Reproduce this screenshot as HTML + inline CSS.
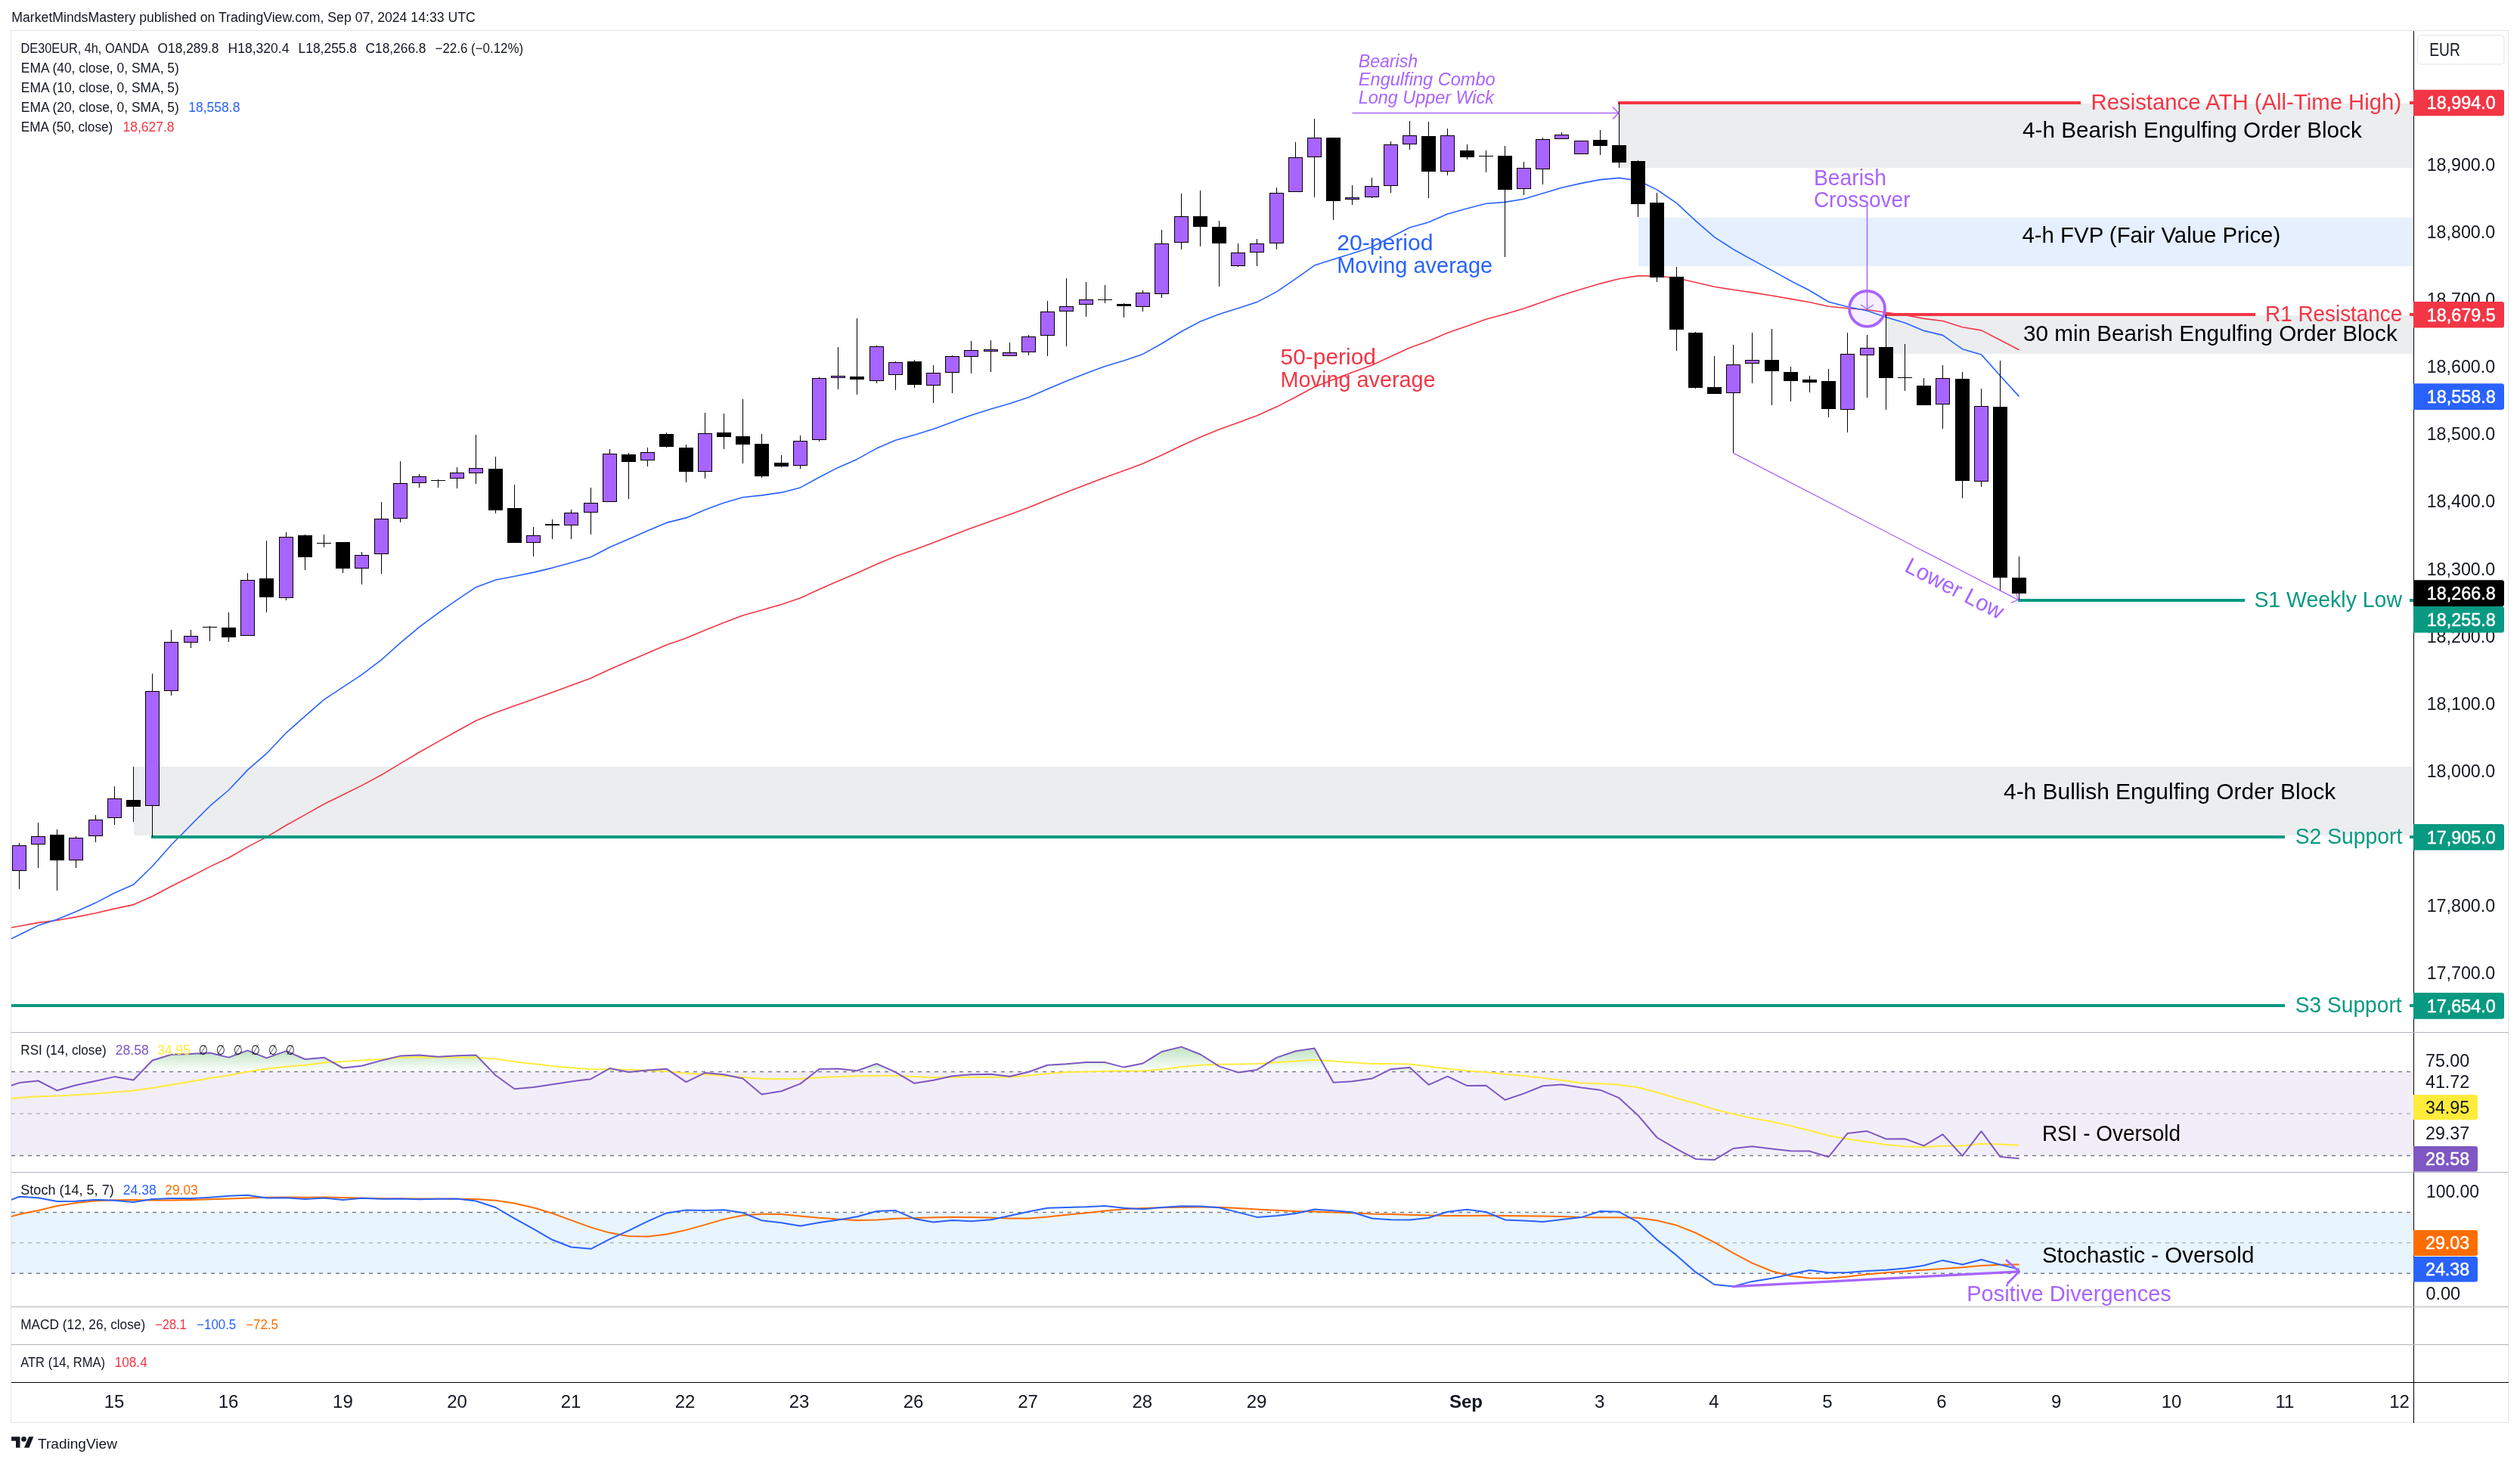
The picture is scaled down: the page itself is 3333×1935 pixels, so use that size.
<!DOCTYPE html>
<html><head><meta charset="utf-8"><title>DE30EUR chart</title>
<style>html,body{margin:0;padding:0;background:#fff;width:3333px;height:1935px;overflow:hidden}svg{display:block;will-change:transform}text{font-family:"Liberation Sans",sans-serif}</style>
</head><body>
<svg width="3333" height="1935" viewBox="0 0 3333 1935" font-family="Liberation Sans, sans-serif"><rect width="3333" height="1935" fill="#ffffff"/>
<text x="15.3" y="29.3" font-size="18" fill="#131722" textLength="613.5" lengthAdjust="spacingAndGlyphs">MarketMindsMastery published on TradingView.com, Sep 07, 2024 14:33 UTC</text>
<rect x="14.5" y="40.5" width="3303" height="1841" fill="none" stroke="#e0e3eb" stroke-width="1"/>
<defs><clipPath id="cm"><rect x="15" y="41" width="3177" height="1324"/></clipPath><clipPath id="cr"><rect x="15" y="1366" width="3177" height="184"/></clipPath><clipPath id="cs"><rect x="15" y="1551" width="3177" height="177"/></clipPath><linearGradient id="gg" x1="0" y1="0" x2="0" y2="1"><stop offset="0" stop-color="#4caf50" stop-opacity="0.35"/><stop offset="1" stop-color="#4caf50" stop-opacity="0.0"/></linearGradient></defs>
<g clip-path="url(#cm)">
<rect x="2142" y="137" width="1050" height="85" fill="#ebedef"/>
<rect x="2167" y="288" width="1025" height="64" fill="#e5effd"/>
<rect x="2495" y="417" width="697" height="51" fill="#ebedef"/>
<rect x="177" y="1014" width="3015" height="91" fill="#ebedef"/>
<polyline points="-0.4,1229.4 25.5,1225.0 50.5,1220.4 75.5,1217.2 100.5,1212.9 126.5,1207.8 151.5,1201.9 176.5,1196.6 201.5,1185.5 226.5,1172.3 252.5,1159.3 277.5,1146.4 302.5,1134.5 327.5,1120.1 352.5,1107.1 378.5,1091.5 403.5,1077.6 428.5,1063.5 453.5,1051.3 478.5,1038.9 504.5,1025.0 529.5,1009.9 554.5,995.0 579.5,980.9 604.5,967.0 629.5,953.3 655.5,942.4 680.5,933.6 705.5,924.8 730.5,915.7 755.5,906.4 781.5,896.9 806.5,885.3 831.5,874.5 856.5,863.7 881.5,853.0 907.5,844.0 932.5,833.4 957.5,823.4 982.5,814.1 1007.5,806.9 1033.5,799.4 1058.5,791.0 1083.5,779.6 1108.5,768.5 1133.5,758.1 1159.5,746.3 1184.5,735.8 1209.5,726.9 1234.5,717.7 1259.5,708.1 1284.5,698.5 1310.5,689.2 1335.5,680.4 1360.5,671.2 1385.5,661.0 1410.5,651.0 1436.5,641.0 1461.5,631.4 1486.5,622.5 1511.5,613.3 1536.5,601.9 1562.5,589.5 1587.5,578.2 1612.5,568.1 1637.5,559.0 1662.5,549.7 1688.5,538.1 1713.5,525.2 1738.5,511.7 1763.5,502.1 1788.5,492.6 1814.5,483.0 1839.5,471.5 1864.5,460.1 1889.5,450.9 1914.5,440.3 1940.5,431.2 1965.5,422.3 1990.5,415.6 2015.5,408.0 2040.5,399.3 2065.5,390.6 2091.5,382.6 2116.5,375.1 2141.5,368.8 2166.5,364.9 2191.5,365.0 2217.5,367.8 2242.5,373.5 2267.5,379.3 2292.5,383.3 2317.5,386.9 2343.5,391.0 2368.5,395.4 2393.5,399.7 2418.5,405.3 2443.5,407.7 2469.5,409.8 2494.5,413.3 2519.5,416.7 2544.5,421.4 2569.5,424.5 2595.5,432.8 2620.5,436.9 2645.5,449.7 2670.5,462.8" fill="none" stroke="#f23645" stroke-width="1.6" stroke-linejoin="round"/>
<polyline points="-0.4,1249.0 25.5,1236.5 50.5,1224.1 75.5,1215.9 100.5,1205.7 126.5,1194.1 151.5,1181.0 176.5,1170.1 201.5,1145.7 226.5,1117.5 252.5,1091.2 277.5,1066.2 302.5,1045.0 327.5,1018.4 352.5,996.7 378.5,969.3 403.5,947.2 428.5,925.4 453.5,908.9 478.5,892.3 504.5,872.6 529.5,850.4 554.5,829.4 579.5,810.9 604.5,793.3 629.5,776.7 655.5,767.0 680.5,762.3 705.5,757.1 730.5,751.1 755.5,744.2 781.5,736.7 806.5,723.7 831.5,712.9 856.5,702.0 881.5,691.4 907.5,684.9 932.5,674.3 957.5,665.1 982.5,657.7 1007.5,655.1 1033.5,651.4 1058.5,644.9 1083.5,631.2 1108.5,618.4 1133.5,607.4 1159.5,593.1 1184.5,582.3 1209.5,575.3 1234.5,567.4 1259.5,558.2 1284.5,549.2 1310.5,540.9 1335.5,533.8 1360.5,525.4 1385.5,514.5 1410.5,504.1 1436.5,493.8 1461.5,484.6 1486.5,477.0 1511.5,468.4 1536.5,454.5 1562.5,438.5 1587.5,425.3 1612.5,415.5 1637.5,407.8 1662.5,399.6 1688.5,385.9 1713.5,368.9 1738.5,351.1 1763.5,343.1 1788.5,335.2 1814.5,326.7 1839.5,313.8 1864.5,301.0 1889.5,294.0 1914.5,283.0 1940.5,275.8 1965.5,269.2 1990.5,267.4 2015.5,263.2 2040.5,255.7 2065.5,248.3 2091.5,242.4 2116.5,237.6 2141.5,235.4 2166.5,238.7 2191.5,250.9 2217.5,268.6 2242.5,291.8 2267.5,313.6 2292.5,329.7 2317.5,343.6 2343.5,357.6 2368.5,371.5 2393.5,384.3 2418.5,399.2 2443.5,405.8 2469.5,411.0 2494.5,419.4 2519.5,427.0 2544.5,437.4 2569.5,443.4 2595.5,461.7 2620.5,468.9 2645.5,497.0 2670.5,524.4" fill="none" stroke="#2962ff" stroke-width="1.6" stroke-linejoin="round"/>
<rect x="2140" y="134" width="612" height="4" fill="#f23645"/>
<rect x="3187" y="134" width="5" height="4" fill="#f23645"/>
<rect x="2492" y="414" width="491" height="4" fill="#f23645"/>
<rect x="3187" y="414" width="5" height="4" fill="#f23645"/>
<rect x="2669" y="792" width="300" height="4" fill="#089981"/>
<rect x="3187" y="792" width="5" height="4" fill="#089981"/>
<rect x="200" y="1105" width="2822" height="4" fill="#089981"/>
<rect x="3187" y="1105" width="5" height="4" fill="#089981"/>
<rect x="15" y="1328" width="3007" height="4" fill="#089981"/>
<rect x="3187" y="1328" width="5" height="4" fill="#089981"/>
<rect x="25" y="1115" width="1" height="61" fill="#000"/><rect x="16" y="1118" width="19" height="34" fill="#000"/><rect x="17" y="1119" width="17" height="32" fill="#a864ff"/><rect x="50" y="1088" width="1" height="60" fill="#000"/><rect x="41" y="1106" width="19" height="11" fill="#000"/><rect x="42" y="1107" width="17" height="9" fill="#a864ff"/><rect x="75" y="1097" width="1" height="81" fill="#000"/><rect x="66" y="1104" width="19" height="34" fill="#000"/><rect x="100" y="1106" width="1" height="42" fill="#000"/><rect x="91" y="1108" width="19" height="30" fill="#000"/><rect x="92" y="1109" width="17" height="28" fill="#a864ff"/><rect x="126" y="1078" width="1" height="36" fill="#000"/><rect x="117" y="1084" width="19" height="22" fill="#000"/><rect x="118" y="1085" width="17" height="20" fill="#a864ff"/><rect x="151" y="1040" width="1" height="51" fill="#000"/><rect x="142" y="1056" width="19" height="26" fill="#000"/><rect x="143" y="1057" width="17" height="24" fill="#a864ff"/><rect x="176" y="1014" width="1" height="73" fill="#000"/><rect x="167" y="1058" width="19" height="9" fill="#000"/><rect x="201" y="891" width="1" height="216" fill="#000"/><rect x="192" y="914" width="19" height="152" fill="#000"/><rect x="193" y="915" width="17" height="150" fill="#a864ff"/><rect x="226" y="833" width="1" height="87" fill="#000"/><rect x="217" y="849" width="19" height="65" fill="#000"/><rect x="218" y="850" width="17" height="63" fill="#a864ff"/><rect x="252" y="833" width="1" height="24" fill="#000"/><rect x="243" y="841" width="19" height="9" fill="#000"/><rect x="244" y="842" width="17" height="7" fill="#a864ff"/><rect x="277" y="828" width="1" height="20" fill="#000"/><rect x="268" y="829" width="19" height="1" fill="#000"/><rect x="302" y="810" width="1" height="39" fill="#000"/><rect x="293" y="830" width="19" height="13" fill="#000"/><rect x="327" y="758" width="1" height="83" fill="#000"/><rect x="318" y="767" width="19" height="74" fill="#000"/><rect x="319" y="768" width="17" height="72" fill="#a864ff"/><rect x="352" y="715" width="1" height="95" fill="#000"/><rect x="343" y="765" width="19" height="25" fill="#000"/><rect x="378" y="704" width="1" height="90" fill="#000"/><rect x="369" y="710" width="19" height="81" fill="#000"/><rect x="370" y="711" width="17" height="79" fill="#a864ff"/><rect x="403" y="707" width="1" height="47" fill="#000"/><rect x="394" y="708" width="19" height="29" fill="#000"/><rect x="428" y="707" width="1" height="17" fill="#000"/><rect x="419" y="718" width="19" height="1" fill="#000"/><rect x="453" y="717" width="1" height="41" fill="#000"/><rect x="444" y="717" width="19" height="35" fill="#000"/><rect x="478" y="730" width="1" height="43" fill="#000"/><rect x="469" y="734" width="19" height="18" fill="#000"/><rect x="470" y="735" width="17" height="16" fill="#a864ff"/><rect x="504" y="664" width="1" height="95" fill="#000"/><rect x="495" y="686" width="19" height="47" fill="#000"/><rect x="496" y="687" width="17" height="45" fill="#a864ff"/><rect x="529" y="610" width="1" height="81" fill="#000"/><rect x="520" y="639" width="19" height="47" fill="#000"/><rect x="521" y="640" width="17" height="45" fill="#a864ff"/><rect x="554" y="627" width="1" height="18" fill="#000"/><rect x="545" y="630" width="19" height="9" fill="#000"/><rect x="546" y="631" width="17" height="7" fill="#a864ff"/><rect x="579" y="634" width="1" height="11" fill="#000"/><rect x="570" y="635" width="19" height="1" fill="#000"/><rect x="604" y="618" width="1" height="28" fill="#000"/><rect x="595" y="625" width="19" height="8" fill="#000"/><rect x="596" y="626" width="17" height="6" fill="#a864ff"/><rect x="629" y="575" width="1" height="65" fill="#000"/><rect x="620" y="619" width="19" height="7" fill="#000"/><rect x="621" y="620" width="17" height="5" fill="#a864ff"/><rect x="655" y="604" width="1" height="75" fill="#000"/><rect x="646" y="620" width="19" height="55" fill="#000"/><rect x="680" y="641" width="1" height="77" fill="#000"/><rect x="671" y="672" width="19" height="46" fill="#000"/><rect x="705" y="697" width="1" height="39" fill="#000"/><rect x="696" y="708" width="19" height="10" fill="#000"/><rect x="697" y="709" width="17" height="8" fill="#a864ff"/><rect x="730" y="687" width="1" height="26" fill="#000"/><rect x="721" y="693" width="19" height="2" fill="#000"/><rect x="755" y="674" width="1" height="39" fill="#000"/><rect x="746" y="678" width="19" height="17" fill="#000"/><rect x="747" y="679" width="17" height="15" fill="#a864ff"/><rect x="781" y="645" width="1" height="62" fill="#000"/><rect x="772" y="665" width="19" height="13" fill="#000"/><rect x="773" y="666" width="17" height="11" fill="#a864ff"/><rect x="806" y="594" width="1" height="70" fill="#000"/><rect x="797" y="600" width="19" height="64" fill="#000"/><rect x="798" y="601" width="17" height="62" fill="#a864ff"/><rect x="831" y="599" width="1" height="61" fill="#000"/><rect x="822" y="601" width="19" height="10" fill="#000"/><rect x="856" y="592" width="1" height="25" fill="#000"/><rect x="847" y="598" width="19" height="11" fill="#000"/><rect x="848" y="599" width="17" height="9" fill="#a864ff"/><rect x="881" y="572" width="1" height="20" fill="#000"/><rect x="872" y="574" width="19" height="17" fill="#000"/><rect x="907" y="588" width="1" height="50" fill="#000"/><rect x="898" y="592" width="19" height="32" fill="#000"/><rect x="932" y="546" width="1" height="87" fill="#000"/><rect x="923" y="573" width="19" height="51" fill="#000"/><rect x="924" y="574" width="17" height="49" fill="#a864ff"/><rect x="957" y="547" width="1" height="47" fill="#000"/><rect x="948" y="572" width="19" height="6" fill="#000"/><rect x="982" y="528" width="1" height="85" fill="#000"/><rect x="973" y="577" width="19" height="11" fill="#000"/><rect x="1007" y="574" width="1" height="58" fill="#000"/><rect x="998" y="587" width="19" height="43" fill="#000"/><rect x="1033" y="602" width="1" height="16" fill="#000"/><rect x="1024" y="612" width="19" height="5" fill="#000"/><rect x="1058" y="576" width="1" height="44" fill="#000"/><rect x="1049" y="583" width="19" height="33" fill="#000"/><rect x="1050" y="584" width="17" height="31" fill="#a864ff"/><rect x="1083" y="499" width="1" height="85" fill="#000"/><rect x="1074" y="500" width="19" height="82" fill="#000"/><rect x="1075" y="501" width="17" height="80" fill="#a864ff"/><rect x="1108" y="459" width="1" height="56" fill="#000"/><rect x="1099" y="497" width="19" height="3" fill="#000"/><rect x="1100" y="498" width="17" height="1" fill="#a864ff"/><rect x="1133" y="421" width="1" height="101" fill="#000"/><rect x="1124" y="498" width="19" height="4" fill="#000"/><rect x="1159" y="457" width="1" height="50" fill="#000"/><rect x="1150" y="458" width="19" height="46" fill="#000"/><rect x="1151" y="459" width="17" height="44" fill="#a864ff"/><rect x="1184" y="478" width="1" height="38" fill="#000"/><rect x="1175" y="479" width="19" height="17" fill="#000"/><rect x="1176" y="480" width="17" height="15" fill="#a864ff"/><rect x="1209" y="476" width="1" height="37" fill="#000"/><rect x="1200" y="478" width="19" height="31" fill="#000"/><rect x="1234" y="483" width="1" height="50" fill="#000"/><rect x="1225" y="493" width="19" height="17" fill="#000"/><rect x="1226" y="494" width="17" height="15" fill="#a864ff"/><rect x="1259" y="470" width="1" height="50" fill="#000"/><rect x="1250" y="471" width="19" height="22" fill="#000"/><rect x="1251" y="472" width="17" height="20" fill="#a864ff"/><rect x="1284" y="451" width="1" height="43" fill="#000"/><rect x="1275" y="463" width="19" height="9" fill="#000"/><rect x="1276" y="464" width="17" height="7" fill="#a864ff"/><rect x="1310" y="450" width="1" height="42" fill="#000"/><rect x="1301" y="462" width="19" height="3" fill="#000"/><rect x="1302" y="463" width="17" height="1" fill="#a864ff"/><rect x="1335" y="453" width="1" height="18" fill="#000"/><rect x="1326" y="466" width="19" height="5" fill="#000"/><rect x="1327" y="467" width="17" height="3" fill="#a864ff"/><rect x="1360" y="443" width="1" height="27" fill="#000"/><rect x="1351" y="445" width="19" height="21" fill="#000"/><rect x="1352" y="446" width="17" height="19" fill="#a864ff"/><rect x="1385" y="398" width="1" height="73" fill="#000"/><rect x="1376" y="412" width="19" height="32" fill="#000"/><rect x="1377" y="413" width="17" height="30" fill="#a864ff"/><rect x="1410" y="368" width="1" height="90" fill="#000"/><rect x="1401" y="405" width="19" height="7" fill="#000"/><rect x="1402" y="406" width="17" height="5" fill="#a864ff"/><rect x="1436" y="373" width="1" height="46" fill="#000"/><rect x="1427" y="396" width="19" height="7" fill="#000"/><rect x="1428" y="397" width="17" height="5" fill="#a864ff"/><rect x="1461" y="377" width="1" height="24" fill="#000"/><rect x="1452" y="396" width="19" height="1" fill="#000"/><rect x="1486" y="401" width="1" height="19" fill="#000"/><rect x="1477" y="402" width="19" height="3" fill="#000"/><rect x="1511" y="384" width="1" height="28" fill="#000"/><rect x="1502" y="387" width="19" height="19" fill="#000"/><rect x="1503" y="388" width="17" height="17" fill="#a864ff"/><rect x="1536" y="304" width="1" height="90" fill="#000"/><rect x="1527" y="322" width="19" height="67" fill="#000"/><rect x="1528" y="323" width="17" height="65" fill="#a864ff"/><rect x="1562" y="256" width="1" height="74" fill="#000"/><rect x="1553" y="286" width="19" height="35" fill="#000"/><rect x="1554" y="287" width="17" height="33" fill="#a864ff"/><rect x="1587" y="252" width="1" height="74" fill="#000"/><rect x="1578" y="286" width="19" height="14" fill="#000"/><rect x="1612" y="292" width="1" height="87" fill="#000"/><rect x="1603" y="300" width="19" height="22" fill="#000"/><rect x="1637" y="322" width="1" height="31" fill="#000"/><rect x="1628" y="334" width="19" height="18" fill="#000"/><rect x="1629" y="335" width="17" height="16" fill="#a864ff"/><rect x="1662" y="316" width="1" height="36" fill="#000"/><rect x="1653" y="322" width="19" height="12" fill="#000"/><rect x="1654" y="323" width="17" height="10" fill="#a864ff"/><rect x="1688" y="248" width="1" height="82" fill="#000"/><rect x="1679" y="255" width="19" height="67" fill="#000"/><rect x="1680" y="256" width="17" height="65" fill="#a864ff"/><rect x="1713" y="188" width="1" height="66" fill="#000"/><rect x="1704" y="208" width="19" height="46" fill="#000"/><rect x="1705" y="209" width="17" height="44" fill="#a864ff"/><rect x="1738" y="157" width="1" height="104" fill="#000"/><rect x="1729" y="182" width="19" height="26" fill="#000"/><rect x="1730" y="183" width="17" height="24" fill="#a864ff"/><rect x="1763" y="182" width="1" height="109" fill="#000"/><rect x="1754" y="182" width="19" height="84" fill="#000"/><rect x="1788" y="245" width="1" height="26" fill="#000"/><rect x="1779" y="261" width="19" height="3" fill="#000"/><rect x="1780" y="262" width="17" height="1" fill="#a864ff"/><rect x="1814" y="235" width="1" height="27" fill="#000"/><rect x="1805" y="246" width="19" height="15" fill="#000"/><rect x="1806" y="247" width="17" height="13" fill="#a864ff"/><rect x="1839" y="187" width="1" height="68" fill="#000"/><rect x="1830" y="191" width="19" height="55" fill="#000"/><rect x="1831" y="192" width="17" height="53" fill="#a864ff"/><rect x="1864" y="160" width="1" height="38" fill="#000"/><rect x="1855" y="179" width="19" height="12" fill="#000"/><rect x="1856" y="180" width="17" height="10" fill="#a864ff"/><rect x="1889" y="161" width="1" height="101" fill="#000"/><rect x="1880" y="180" width="19" height="47" fill="#000"/><rect x="1914" y="170" width="1" height="62" fill="#000"/><rect x="1905" y="179" width="19" height="48" fill="#000"/><rect x="1906" y="180" width="17" height="46" fill="#a864ff"/><rect x="1940" y="191" width="1" height="20" fill="#000"/><rect x="1931" y="199" width="19" height="9" fill="#000"/><rect x="1965" y="199" width="1" height="29" fill="#000"/><rect x="1956" y="206" width="19" height="1" fill="#000"/><rect x="1990" y="193" width="1" height="147" fill="#000"/><rect x="1981" y="206" width="19" height="45" fill="#000"/><rect x="2015" y="214" width="1" height="44" fill="#000"/><rect x="2006" y="222" width="19" height="28" fill="#000"/><rect x="2007" y="223" width="17" height="26" fill="#a864ff"/><rect x="2040" y="182" width="1" height="62" fill="#000"/><rect x="2031" y="184" width="19" height="40" fill="#000"/><rect x="2032" y="185" width="17" height="38" fill="#a864ff"/><rect x="2065" y="175" width="1" height="9" fill="#000"/><rect x="2056" y="178" width="19" height="6" fill="#000"/><rect x="2057" y="179" width="17" height="4" fill="#a864ff"/><rect x="2091" y="186" width="1" height="18" fill="#000"/><rect x="2082" y="186" width="19" height="18" fill="#000"/><rect x="2083" y="187" width="17" height="16" fill="#a864ff"/><rect x="2116" y="172" width="1" height="33" fill="#000"/><rect x="2107" y="185" width="19" height="8" fill="#000"/><rect x="2141" y="136" width="1" height="86" fill="#000"/><rect x="2132" y="192" width="19" height="23" fill="#000"/><rect x="2166" y="212" width="1" height="75" fill="#000"/><rect x="2157" y="213" width="19" height="57" fill="#000"/><rect x="2191" y="255" width="1" height="118" fill="#000"/><rect x="2182" y="268" width="19" height="99" fill="#000"/><rect x="2217" y="353" width="1" height="111" fill="#000"/><rect x="2208" y="366" width="19" height="70" fill="#000"/><rect x="2242" y="439" width="1" height="75" fill="#000"/><rect x="2233" y="440" width="19" height="73" fill="#000"/><rect x="2267" y="471" width="1" height="50" fill="#000"/><rect x="2258" y="512" width="19" height="9" fill="#000"/><rect x="2292" y="456" width="1" height="143" fill="#000"/><rect x="2283" y="482" width="19" height="38" fill="#000"/><rect x="2284" y="483" width="17" height="36" fill="#a864ff"/><rect x="2317" y="440" width="1" height="67" fill="#000"/><rect x="2308" y="476" width="19" height="5" fill="#000"/><rect x="2309" y="477" width="17" height="3" fill="#a864ff"/><rect x="2343" y="435" width="1" height="101" fill="#000"/><rect x="2334" y="476" width="19" height="15" fill="#000"/><rect x="2368" y="485" width="1" height="46" fill="#000"/><rect x="2359" y="492" width="19" height="12" fill="#000"/><rect x="2393" y="497" width="1" height="22" fill="#000"/><rect x="2384" y="502" width="19" height="4" fill="#000"/><rect x="2418" y="488" width="1" height="64" fill="#000"/><rect x="2409" y="504" width="19" height="37" fill="#000"/><rect x="2443" y="440" width="1" height="132" fill="#000"/><rect x="2434" y="468" width="19" height="74" fill="#000"/><rect x="2435" y="469" width="17" height="72" fill="#a864ff"/><rect x="2469" y="443" width="1" height="83" fill="#000"/><rect x="2460" y="460" width="19" height="10" fill="#000"/><rect x="2461" y="461" width="17" height="8" fill="#a864ff"/><rect x="2494" y="416" width="1" height="126" fill="#000"/><rect x="2485" y="459" width="19" height="41" fill="#000"/><rect x="2519" y="455" width="1" height="62" fill="#000"/><rect x="2510" y="499" width="19" height="1" fill="#000"/><rect x="2544" y="500" width="1" height="36" fill="#000"/><rect x="2535" y="510" width="19" height="26" fill="#000"/><rect x="2569" y="483" width="1" height="84" fill="#000"/><rect x="2560" y="500" width="19" height="35" fill="#000"/><rect x="2561" y="501" width="17" height="33" fill="#a864ff"/><rect x="2595" y="492" width="1" height="167" fill="#000"/><rect x="2586" y="501" width="19" height="135" fill="#000"/><rect x="2620" y="514" width="1" height="130" fill="#000"/><rect x="2611" y="537" width="19" height="100" fill="#000"/><rect x="2612" y="538" width="17" height="98" fill="#a864ff"/><rect x="2645" y="477" width="1" height="305" fill="#000"/><rect x="2636" y="538" width="19" height="226" fill="#000"/><rect x="2670" y="736" width="1" height="57" fill="#000"/><rect x="2661" y="764" width="19" height="21" fill="#000"/>
</g>
<text x="1796.8" y="88.6" font-size="24" fill="#a864ff" textLength="78.2" lengthAdjust="spacingAndGlyphs" font-style="italic">Bearish</text>
<text x="1796.8" y="112.5" font-size="24" fill="#a864ff" textLength="180.9" lengthAdjust="spacingAndGlyphs" font-style="italic">Engulfing Combo</text>
<text x="1796.8" y="136.6" font-size="24" fill="#a864ff" textLength="179.1" lengthAdjust="spacingAndGlyphs" font-style="italic">Long Upper Wick</text>
<path d="M1788.4,149.5 L2141,149.5 M2133,141.6 L2141,149.5 L2133,157.4" fill="none" stroke="#a864ff" stroke-width="1.5"/>
<rect x="2755" y="120" width="430" height="30" fill="#ffffff" opacity="0"/>
<text x="2765.5" y="144.8" font-size="30" fill="#f23645" textLength="410.7" lengthAdjust="spacingAndGlyphs">Resistance ATH (All-Time High)</text>
<text x="2675.0" y="182.1" font-size="30" fill="#000000" textLength="448.8" lengthAdjust="spacingAndGlyphs">4-h Bearish Engulfing Order Block</text>
<text x="2398.9" y="244.9" font-size="30" fill="#a864ff" textLength="96.0" lengthAdjust="spacingAndGlyphs">Bearish</text>
<text x="2398.9" y="274.2" font-size="30" fill="#a864ff" textLength="127.6" lengthAdjust="spacingAndGlyphs">Crossover</text>
<path d="M2469.5,270 L2469.5,408" fill="none" stroke="#a864ff" stroke-width="1.5"/>
<path d="M2461,403 L2469.5,408.8 L2478,403" fill="none" stroke="#a864ff" stroke-width="1.2"/>
<circle cx="2469.5" cy="408.3" r="23.5" fill="#a864ff" fill-opacity="0.1" stroke="#a864ff" stroke-width="3.8"/>
<text x="2674.5" y="321.1" font-size="30" fill="#000000" textLength="341.7" lengthAdjust="spacingAndGlyphs">4-h FVP (Fair Value Price)</text>
<text x="1768.2" y="330.7" font-size="30" fill="#2962ff" textLength="127.2" lengthAdjust="spacingAndGlyphs">20-period</text>
<text x="1768.2" y="361.0" font-size="30" fill="#2962ff" textLength="205.9" lengthAdjust="spacingAndGlyphs">Moving average</text>
<text x="2996.0" y="424.5" font-size="30" fill="#f23645" textLength="181.3" lengthAdjust="spacingAndGlyphs">R1 Resistance</text>
<text x="2676.0" y="450.6" font-size="30" fill="#000000" textLength="494.8" lengthAdjust="spacingAndGlyphs">30 min Bearish Engulfing Order Block</text>
<text x="1693.6" y="481.6" font-size="30" fill="#f23645" textLength="126.3" lengthAdjust="spacingAndGlyphs">50-period</text>
<text x="1693.6" y="511.7" font-size="30" fill="#f23645" textLength="205.0" lengthAdjust="spacingAndGlyphs">Moving average</text>
<path d="M2292.3,599.2 L2669.2,793.4" fill="none" stroke="#a864ff" stroke-width="1.3"/>
<path d="M2666.8,784.8 L2669.2,793.4 L2659.8,797.1" fill="none" stroke="#a864ff" stroke-width="1.3"/>
<text x="0" y="0" font-size="30" fill="#a864ff" textLength="142" lengthAdjust="spacingAndGlyphs" transform="translate(2517.5,754.9) rotate(27.2)">Lower Low</text>
<text x="2981.4" y="803.4" font-size="30" fill="#089981" textLength="195.6" lengthAdjust="spacingAndGlyphs">S1 Weekly Low</text>
<text x="2650.0" y="1056.7" font-size="30" fill="#000000" textLength="439.3" lengthAdjust="spacingAndGlyphs">4-h Bullish Engulfing Order Block</text>
<text x="3035.7" y="1115.5" font-size="30" fill="#089981" textLength="141.7" lengthAdjust="spacingAndGlyphs">S2 Support</text>
<text x="3035.7" y="1338.6" font-size="30" fill="#089981" textLength="140.9" lengthAdjust="spacingAndGlyphs">S3 Support</text>
<text x="27.6" y="69.5" font-size="18" fill="#131722" textLength="169.2" lengthAdjust="spacingAndGlyphs">DE30EUR, 4h, OANDA</text>
<text x="208.6" y="69.5" font-size="18" fill="#131722" textLength="80.9" lengthAdjust="spacingAndGlyphs">O18,289.8</text>
<text x="301.6" y="69.5" font-size="18" fill="#131722" textLength="80.9" lengthAdjust="spacingAndGlyphs">H18,320.4</text>
<text x="394.6" y="69.5" font-size="18" fill="#131722" textLength="77.4" lengthAdjust="spacingAndGlyphs">L18,255.8</text>
<text x="483.5" y="69.5" font-size="18" fill="#131722" textLength="80.0" lengthAdjust="spacingAndGlyphs">C18,266.8</text>
<text x="575.6" y="69.5" font-size="18" fill="#131722" textLength="116.5" lengthAdjust="spacingAndGlyphs">−22.6 (−0.12%)</text>
<text x="27.8" y="95.8" font-size="18" fill="#131722" textLength="209.0" lengthAdjust="spacingAndGlyphs">EMA (40, close, 0, SMA, 5)</text>
<text x="27.8" y="121.9" font-size="18" fill="#131722" textLength="209.0" lengthAdjust="spacingAndGlyphs">EMA (10, close, 0, SMA, 5)</text>
<text x="27.8" y="147.9" font-size="18" fill="#131722" textLength="209.0" lengthAdjust="spacingAndGlyphs">EMA (20, close, 0, SMA, 5)</text>
<text x="249.3" y="147.9" font-size="18" fill="#2962ff" textLength="68.1" lengthAdjust="spacingAndGlyphs">18,558.8</text>
<text x="27.8" y="173.6" font-size="18" fill="#131722" textLength="121.5" lengthAdjust="spacingAndGlyphs">EMA (50, close)</text>
<text x="162.5" y="173.6" font-size="18" fill="#f23645" textLength="68.1" lengthAdjust="spacingAndGlyphs">18,627.8</text>
<rect x="3192" y="41" width="1" height="1841" fill="#000"/>
<text x="3209.7" y="225.8" font-size="24" fill="#131722" textLength="90.5" lengthAdjust="spacingAndGlyphs">18,900.0</text>
<text x="3209.7" y="314.9" font-size="24" fill="#131722" textLength="90.5" lengthAdjust="spacingAndGlyphs">18,800.0</text>
<text x="3209.7" y="404.0" font-size="24" fill="#131722" textLength="90.5" lengthAdjust="spacingAndGlyphs">18,700.0</text>
<text x="3209.7" y="493.1" font-size="24" fill="#131722" textLength="90.5" lengthAdjust="spacingAndGlyphs">18,600.0</text>
<text x="3209.7" y="582.2" font-size="24" fill="#131722" textLength="90.5" lengthAdjust="spacingAndGlyphs">18,500.0</text>
<text x="3209.7" y="671.4" font-size="24" fill="#131722" textLength="90.5" lengthAdjust="spacingAndGlyphs">18,400.0</text>
<text x="3209.7" y="760.5" font-size="24" fill="#131722" textLength="90.5" lengthAdjust="spacingAndGlyphs">18,300.0</text>
<text x="3209.7" y="849.6" font-size="24" fill="#131722" textLength="90.5" lengthAdjust="spacingAndGlyphs">18,200.0</text>
<text x="3209.7" y="938.7" font-size="24" fill="#131722" textLength="90.5" lengthAdjust="spacingAndGlyphs">18,100.0</text>
<text x="3209.7" y="1027.8" font-size="24" fill="#131722" textLength="90.5" lengthAdjust="spacingAndGlyphs">18,000.0</text>
<text x="3209.7" y="1116.9" font-size="24" fill="#131722" textLength="90.5" lengthAdjust="spacingAndGlyphs">17,900.0</text>
<text x="3209.7" y="1206.0" font-size="24" fill="#131722" textLength="90.5" lengthAdjust="spacingAndGlyphs">17,800.0</text>
<text x="3209.7" y="1295.1" font-size="24" fill="#131722" textLength="90.5" lengthAdjust="spacingAndGlyphs">17,700.0</text>
<rect x="3197.5" y="46.5" width="114.5" height="38.5" rx="5" fill="#fff" stroke="#e0e3eb" stroke-width="1"/>
<text x="3213.3" y="74.0" font-size="23" fill="#131722" textLength="40.5" lengthAdjust="spacingAndGlyphs">EUR</text>
<path d="M3192,118.7 L3309,118.7 Q3312,118.7 3312,121.7 L3312,150.3 Q3312,153.3 3309,153.3 L3192,153.3 Z" fill="#f23645"/>
<text x="3209.8" y="144.3" font-size="24" fill="#fff" textLength="91.0" lengthAdjust="spacingAndGlyphs" stroke="#fff" stroke-width="0.5">18,994.0</text>
<path d="M3192,399.0 L3309,399.0 Q3312,399.0 3312,402.0 L3312,430.6 Q3312,433.6 3309,433.6 L3192,433.6 Z" fill="#f23645"/>
<text x="3209.8" y="424.6" font-size="24" fill="#fff" textLength="91.0" lengthAdjust="spacingAndGlyphs" stroke="#fff" stroke-width="0.5">18,679.5</text>
<path d="M3192,507.3 L3309,507.3 Q3312,507.3 3312,510.3 L3312,538.9 Q3312,541.9 3309,541.9 L3192,541.9 Z" fill="#2962ff"/>
<text x="3209.8" y="532.9" font-size="24" fill="#fff" textLength="91.0" lengthAdjust="spacingAndGlyphs" stroke="#fff" stroke-width="0.5">18,558.8</text>
<path d="M3192,767.3 L3309,767.3 Q3312,767.3 3312,770.3 L3312,798.9 Q3312,801.9 3309,801.9 L3192,801.9 Z" fill="#000000"/>
<text x="3209.8" y="792.9" font-size="24" fill="#fff" textLength="91.0" lengthAdjust="spacingAndGlyphs" stroke="#fff" stroke-width="0.5">18,266.8</text>
<path d="M3192,802.1 L3309,802.1 Q3312,802.1 3312,805.1 L3312,833.7 Q3312,836.7 3309,836.7 L3192,836.7 Z" fill="#089981"/>
<text x="3209.8" y="827.7" font-size="24" fill="#fff" textLength="91.0" lengthAdjust="spacingAndGlyphs" stroke="#fff" stroke-width="0.5">18,255.8</text>
<path d="M3192,1089.9 L3309,1089.9 Q3312,1089.9 3312,1092.9 L3312,1121.5 Q3312,1124.5 3309,1124.5 L3192,1124.5 Z" fill="#089981"/>
<text x="3209.8" y="1115.5" font-size="24" fill="#fff" textLength="91.0" lengthAdjust="spacingAndGlyphs" stroke="#fff" stroke-width="0.5">17,905.0</text>
<path d="M3192,1313.1 L3309,1313.1 Q3312,1313.1 3312,1316.1 L3312,1344.7 Q3312,1347.7 3309,1347.7 L3192,1347.7 Z" fill="#089981"/>
<text x="3209.8" y="1338.7" font-size="24" fill="#fff" textLength="91.0" lengthAdjust="spacingAndGlyphs" stroke="#fff" stroke-width="0.5">17,654.0</text>
<rect x="15" y="1365" width="3303" height="1" fill="#b2b5be"/>
<rect x="15" y="1550" width="3303" height="1" fill="#b2b5be"/>
<rect x="15" y="1728" width="3303" height="1" fill="#b2b5be"/>
<rect x="15" y="1778" width="3303" height="1" fill="#b2b5be"/>
<rect x="15" y="1828" width="3303" height="1" fill="#000"/>
<g clip-path="url(#cr)">
<rect x="15" y="1417.5" width="3177" height="111" fill="#7e57c2" fill-opacity="0.1"/>
<line x1="15" y1="1417.5" x2="3192" y2="1417.5" stroke="#787b86" stroke-width="1.5" stroke-dasharray="5,6"/>
<line x1="15" y1="1473" x2="3192" y2="1473" stroke="#b2b5be" stroke-width="1.5" stroke-dasharray="5,6"/>
<line x1="15" y1="1528.4" x2="3192" y2="1528.4" stroke="#787b86" stroke-width="1.5" stroke-dasharray="5,6"/>
<polygon points="187.1,1417.5 201.5,1402.5 226.5,1394.8 252.5,1393.9 277.5,1392.5 302.5,1398.6 327.5,1389.4 352.5,1399.4 378.5,1390.1 403.5,1401.0 428.5,1398.7 453.5,1412.5 478.5,1409.7 504.5,1402.6 529.5,1396.6 554.5,1395.5 579.5,1397.7 604.5,1396.3 629.5,1395.4 650.8,1417.5" fill="url(#gg)"/>
<polygon points="798.6,1417.5 806.5,1413.0 828.7,1417.5" fill="url(#gg)"/>
<polygon points="836.9,1417.5 856.5,1415.4 881.5,1413.7 887.1,1417.5" fill="url(#gg)"/>
<polygon points="1079.0,1417.5 1083.5,1414.0 1108.5,1413.4 1133.5,1416.2 1159.5,1406.9 1183.1,1417.5" fill="url(#gg)"/>
<polygon points="1361.0,1417.5 1385.5,1408.8 1410.5,1407.3 1436.5,1405.1 1461.5,1405.1 1486.5,1411.6 1511.5,1406.5 1536.5,1391.0 1562.5,1384.6 1587.5,1394.5 1612.5,1410.4 1634.6,1417.5" fill="url(#gg)"/>
<polygon points="1644.1,1417.5 1662.5,1414.9 1688.5,1398.9 1713.5,1390.3 1738.5,1386.4 1755.7,1417.5" fill="url(#gg)"/>
<polygon points="1832.9,1417.5 1839.5,1414.2 1864.5,1411.8 1870.7,1417.5" fill="url(#gg)"/>
<polyline points="-0.4,1454.5 25.5,1452.0 50.5,1450.3 75.5,1449.5 100.5,1448.2 126.5,1446.5 151.5,1444.4 176.5,1442.6 201.5,1439.0 226.5,1434.8 252.5,1430.5 277.5,1426.1 302.5,1422.2 327.5,1417.6 352.5,1413.8 378.5,1410.8 403.5,1408.7 428.5,1405.6 453.5,1404.0 478.5,1402.6 504.5,1401.0 529.5,1398.7 554.5,1398.2 579.5,1398.5 604.5,1398.6 629.5,1398.8 655.5,1400.5 680.5,1404.2 705.5,1406.9 730.5,1410.1 755.5,1412.2 781.5,1414.2 806.5,1414.2 831.5,1414.8 856.5,1415.7 881.5,1417.0 907.5,1419.5 932.5,1421.0 957.5,1422.8 982.5,1425.0 1007.5,1426.8 1033.5,1427.0 1058.5,1426.7 1083.5,1425.3 1108.5,1424.0 1133.5,1423.3 1159.5,1422.8 1184.5,1422.8 1209.5,1424.1 1234.5,1425.1 1259.5,1424.6 1284.5,1424.7 1310.5,1424.7 1335.5,1424.5 1360.5,1422.4 1385.5,1419.9 1410.5,1418.1 1436.5,1417.4 1461.5,1416.8 1486.5,1416.5 1511.5,1416.5 1536.5,1414.5 1562.5,1411.1 1587.5,1408.7 1612.5,1407.7 1637.5,1407.5 1662.5,1407.1 1688.5,1405.3 1713.5,1403.4 1738.5,1401.8 1763.5,1403.5 1788.5,1405.3 1814.5,1406.9 1839.5,1407.1 1864.5,1407.4 1889.5,1410.6 1914.5,1413.4 1940.5,1416.3 1965.5,1418.1 1990.5,1420.7 2015.5,1423.0 2040.5,1425.7 2065.5,1428.8 2091.5,1432.5 2116.5,1433.3 2141.5,1434.8 2166.5,1438.3 2191.5,1444.7 2217.5,1452.5 2242.5,1459.5 2267.5,1467.3 2292.5,1473.3 2317.5,1479.0 2343.5,1483.6 2368.5,1489.1 2393.5,1495.2 2418.5,1502.0 2443.5,1506.4 2469.5,1510.2 2494.5,1514.1 2519.5,1516.3 2544.5,1517.1 2569.5,1515.7 2595.5,1515.4 2620.5,1512.7 2645.5,1513.5 2670.5,1514.7" fill="none" stroke="#ffeb3b" stroke-width="2"/>
<polyline points="-0.4,1440.8 25.5,1432.1 50.5,1429.5 75.5,1442.3 100.5,1435.3 126.5,1429.8 151.5,1424.1 176.5,1428.5 201.5,1402.5 226.5,1394.8 252.5,1393.9 277.5,1392.5 302.5,1398.6 327.5,1389.4 352.5,1399.4 378.5,1390.1 403.5,1401.0 428.5,1398.7 453.5,1412.5 478.5,1409.7 504.5,1402.6 529.5,1396.6 554.5,1395.5 579.5,1397.7 604.5,1396.3 629.5,1395.4 655.5,1422.3 680.5,1440.2 705.5,1438.0 730.5,1434.3 755.5,1430.4 781.5,1427.2 806.5,1413.0 831.5,1418.1 856.5,1415.4 881.5,1413.7 907.5,1431.2 932.5,1418.9 957.5,1421.2 982.5,1426.5 1007.5,1447.4 1033.5,1443.3 1058.5,1433.4 1083.5,1414.0 1108.5,1413.4 1133.5,1416.2 1159.5,1406.9 1184.5,1418.1 1209.5,1432.8 1234.5,1428.7 1259.5,1423.2 1284.5,1421.2 1310.5,1420.7 1335.5,1423.8 1360.5,1417.7 1385.5,1408.8 1410.5,1407.3 1436.5,1405.1 1461.5,1405.1 1486.5,1411.6 1511.5,1406.5 1536.5,1391.0 1562.5,1384.6 1587.5,1394.5 1612.5,1410.4 1637.5,1418.4 1662.5,1414.9 1688.5,1398.9 1713.5,1390.3 1738.5,1386.4 1763.5,1431.7 1788.5,1430.3 1814.5,1426.6 1839.5,1414.2 1864.5,1411.8 1889.5,1434.8 1914.5,1423.7 1940.5,1436.1 1965.5,1435.8 1990.5,1454.7 2015.5,1446.4 2040.5,1436.3 2065.5,1434.6 2091.5,1438.6 2116.5,1441.7 2141.5,1452.2 2166.5,1475.2 2191.5,1504.5 2217.5,1519.7 2242.5,1532.9 2267.5,1534.1 2292.5,1519.0 2317.5,1516.3 2343.5,1519.4 2368.5,1522.2 2393.5,1522.6 2418.5,1530.2 2443.5,1499.1 2469.5,1496.1 2494.5,1506.4 2519.5,1506.2 2544.5,1515.4 2569.5,1500.3 2595.5,1528.9 2620.5,1496.2 2645.5,1530.1 2670.5,1532.3" fill="none" stroke="#7e57c2" stroke-width="2" stroke-linejoin="round"/>
</g>
<text x="27.3" y="1395.0" font-size="18" fill="#131722" textLength="113.4" lengthAdjust="spacingAndGlyphs">RSI (14, close)</text>
<text x="152.7" y="1395.0" font-size="18" fill="#7e57c2" textLength="44.0" lengthAdjust="spacingAndGlyphs">28.58</text>
<text x="208.3" y="1395.0" font-size="18" fill="#ffeb3b" textLength="43.4" lengthAdjust="spacingAndGlyphs">34.95</text>
<text x="263.3" y="1395.0" font-size="18" fill="#131722" textLength="12.0" lengthAdjust="spacingAndGlyphs">∅</text>
<text x="286.0" y="1395.0" font-size="18" fill="#131722" textLength="12.0" lengthAdjust="spacingAndGlyphs">∅</text>
<text x="309.3" y="1395.0" font-size="18" fill="#131722" textLength="12.0" lengthAdjust="spacingAndGlyphs">∅</text>
<text x="332.3" y="1395.0" font-size="18" fill="#131722" textLength="12.0" lengthAdjust="spacingAndGlyphs">∅</text>
<text x="355.0" y="1395.0" font-size="18" fill="#131722" textLength="12.0" lengthAdjust="spacingAndGlyphs">∅</text>
<text x="378.3" y="1395.0" font-size="18" fill="#131722" textLength="12.0" lengthAdjust="spacingAndGlyphs">∅</text>
<text x="2700.9" y="1508.8" font-size="30" fill="#000000" textLength="183.2" lengthAdjust="spacingAndGlyphs">RSI - Oversold</text>
<text x="3208.0" y="1411.2" font-size="23" fill="#131722" textLength="58.2" lengthAdjust="spacingAndGlyphs">75.00</text>
<text x="3208.0" y="1438.7" font-size="23" fill="#131722" textLength="58.2" lengthAdjust="spacingAndGlyphs">41.72</text>
<path d="M3192,1448 L3274,1448 Q3277,1448 3277,1451 L3277,1478 Q3277,1481 3274,1481 L3192,1481 Z" fill="#ffeb3b"/>
<text x="3208.0" y="1472.8" font-size="23" fill="#131722" textLength="58.2" lengthAdjust="spacingAndGlyphs">34.95</text>
<text x="3208.0" y="1506.8" font-size="23" fill="#131722" textLength="58.2" lengthAdjust="spacingAndGlyphs">29.37</text>
<path d="M3192,1516 L3274,1516 Q3277,1516 3277,1519 L3277,1546.5 Q3277,1549.5 3274,1549.5 L3192,1549.5 Z" fill="#7e57c2"/>
<text x="3208.0" y="1540.8" font-size="23" fill="#ffffff" textLength="58.2" lengthAdjust="spacingAndGlyphs" stroke="#ffffff" stroke-width="0.5">28.58</text>
<g clip-path="url(#cs)">
<rect x="15" y="1603.4" width="3177" height="81" fill="#2196f3" fill-opacity="0.1"/>
<line x1="15" y1="1603.4" x2="3192" y2="1603.4" stroke="#787b86" stroke-width="1.5" stroke-dasharray="5,6"/>
<line x1="15" y1="1643.8" x2="3192" y2="1643.8" stroke="#b2b5be" stroke-width="1.5" stroke-dasharray="5,6"/>
<line x1="15" y1="1684.3" x2="3192" y2="1684.3" stroke="#787b86" stroke-width="1.5" stroke-dasharray="5,6"/>
<polyline points="-0.4,1613.5 25.5,1606.0 50.5,1601.0 75.5,1595.0 100.5,1591.0 126.5,1588.3 151.5,1587.3 176.5,1587.0 201.5,1587.5 226.5,1587.6 252.5,1587.0 277.5,1586.3 302.5,1585.6 327.5,1584.6 352.5,1583.8 378.5,1583.5 403.5,1583.7 428.5,1583.6 453.5,1584.0 478.5,1584.5 504.5,1585.2 529.5,1585.3 554.5,1585.6 579.5,1585.6 604.5,1585.8 629.5,1586.0 655.5,1587.8 680.5,1591.5 705.5,1597.2 730.5,1604.8 755.5,1613.9 781.5,1623.4 806.5,1630.6 831.5,1635.0 856.5,1635.5 881.5,1632.5 907.5,1626.9 932.5,1619.9 957.5,1612.6 982.5,1607.6 1007.5,1605.7 1033.5,1606.0 1058.5,1608.4 1083.5,1610.8 1108.5,1612.6 1133.5,1613.9 1159.5,1613.6 1184.5,1611.7 1209.5,1610.9 1234.5,1610.2 1259.5,1609.8 1284.5,1610.0 1310.5,1610.6 1335.5,1611.4 1360.5,1611.6 1385.5,1609.6 1410.5,1606.8 1436.5,1604.3 1461.5,1601.4 1486.5,1599.2 1511.5,1598.0 1536.5,1597.2 1562.5,1596.8 1587.5,1596.6 1612.5,1596.7 1637.5,1597.9 1662.5,1599.6 1688.5,1600.8 1713.5,1602.0 1738.5,1602.6 1763.5,1603.4 1788.5,1604.3 1814.5,1605.5 1839.5,1605.9 1864.5,1606.7 1889.5,1607.6 1914.5,1608.1 1940.5,1607.9 1965.5,1607.8 1990.5,1608.1 2015.5,1608.3 2040.5,1608.6 2065.5,1608.9 2091.5,1609.9 2116.5,1610.2 2141.5,1610.2 2166.5,1610.7 2191.5,1614.2 2217.5,1620.6 2242.5,1630.5 2267.5,1643.2 2292.5,1657.4 2317.5,1670.6 2343.5,1681.2 2368.5,1687.8 2393.5,1690.5 2418.5,1690.7 2443.5,1688.4 2469.5,1685.5 2494.5,1683.3 2519.5,1681.4 2544.5,1679.7 2569.5,1677.9 2595.5,1676.3 2620.5,1673.9 2645.5,1672.7 2670.5,1672.6" fill="none" stroke="#ff6d00" stroke-width="2"/>
<polyline points="-0.4,1592.7 25.5,1582.7 50.5,1584.3 75.5,1589.0 100.5,1588.7 126.5,1586.7 151.5,1587.7 176.5,1590.0 201.5,1586.0 226.5,1585.0 252.5,1585.0 277.5,1583.7 302.5,1581.7 327.5,1580.7 352.5,1584.5 378.5,1584.2 403.5,1585.9 428.5,1584.4 453.5,1587.0 478.5,1584.7 504.5,1585.7 529.5,1585.4 554.5,1586.3 579.5,1585.8 604.5,1585.5 629.5,1588.5 655.5,1597.0 680.5,1611.7 705.5,1625.4 730.5,1639.8 755.5,1649.5 781.5,1651.8 806.5,1638.9 831.5,1627.7 856.5,1615.4 881.5,1604.4 907.5,1600.6 932.5,1601.0 957.5,1600.2 982.5,1604.1 1007.5,1614.2 1033.5,1617.2 1058.5,1621.5 1083.5,1617.1 1108.5,1613.5 1133.5,1609.3 1159.5,1602.0 1184.5,1601.1 1209.5,1611.9 1234.5,1616.6 1259.5,1614.0 1284.5,1615.2 1310.5,1613.2 1335.5,1608.1 1360.5,1602.5 1385.5,1597.7 1410.5,1596.9 1436.5,1596.3 1461.5,1595.1 1486.5,1597.8 1511.5,1599.3 1536.5,1596.9 1562.5,1595.2 1587.5,1595.4 1612.5,1597.3 1637.5,1603.4 1662.5,1609.9 1688.5,1607.9 1713.5,1604.9 1738.5,1599.4 1763.5,1601.3 1788.5,1603.3 1814.5,1611.5 1839.5,1613.3 1864.5,1613.5 1889.5,1610.8 1914.5,1602.8 1940.5,1599.8 1965.5,1603.0 1990.5,1613.4 2015.5,1614.6 2040.5,1615.9 2065.5,1612.9 2091.5,1610.1 2116.5,1602.0 2141.5,1602.8 2166.5,1616.4 2191.5,1639.7 2217.5,1660.4 2242.5,1682.4 2267.5,1699.0 2292.5,1701.4 2317.5,1694.9 2343.5,1690.8 2368.5,1685.3 2393.5,1679.9 2418.5,1683.3 2443.5,1682.9 2469.5,1681.1 2494.5,1679.7 2519.5,1677.4 2544.5,1673.8 2569.5,1666.9 2595.5,1672.5 2620.5,1666.0 2645.5,1672.6 2670.5,1678.9" fill="none" stroke="#2962ff" stroke-width="2" stroke-linejoin="round"/>
</g>
<path d="M2292,1701.7 L2670.5,1681.8" fill="none" stroke="#a864ff" stroke-width="3.3" stroke-linecap="round"/>
<path d="M2654,1667 L2670.5,1681.8 L2655.3,1697.5" fill="none" stroke="#a864ff" stroke-width="2.8" stroke-linecap="round" stroke-linejoin="round"/>
<text x="27.3" y="1580.0" font-size="18" fill="#131722" textLength="123.4" lengthAdjust="spacingAndGlyphs">Stoch (14, 5, 7)</text>
<text x="162.7" y="1580.0" font-size="18" fill="#2962ff" textLength="44.0" lengthAdjust="spacingAndGlyphs">24.38</text>
<text x="218.3" y="1580.0" font-size="18" fill="#ff6d00" textLength="43.4" lengthAdjust="spacingAndGlyphs">29.03</text>
<text x="2700.9" y="1670.0" font-size="30" fill="#000000" textLength="280.4" lengthAdjust="spacingAndGlyphs">Stochastic - Oversold</text>
<text x="2601.3" y="1721.3" font-size="30" fill="#a864ff" textLength="270.5" lengthAdjust="spacingAndGlyphs">Positive Divergences</text>
<text x="3209.0" y="1583.9" font-size="23" fill="#131722" textLength="70.0" lengthAdjust="spacingAndGlyphs">100.00</text>
<path d="M3192,1627 L3274,1627 Q3277,1627 3277,1630 L3277,1658 Q3277,1661 3274,1661 L3192,1661 Z" fill="#ff6d00"/>
<text x="3208.0" y="1652.2" font-size="23" fill="#ffffff" textLength="58.2" lengthAdjust="spacingAndGlyphs" stroke="#ffffff" stroke-width="0.5">29.03</text>
<path d="M3192,1662 L3274,1662 Q3277,1662 3277,1665 L3277,1692.5 Q3277,1695.5 3274,1695.5 L3192,1695.5 Z" fill="#2962ff"/>
<text x="3208.0" y="1686.8" font-size="23" fill="#ffffff" textLength="58.2" lengthAdjust="spacingAndGlyphs" stroke="#ffffff" stroke-width="0.5">24.38</text>
<text x="3208.4" y="1719.2" font-size="23" fill="#131722" textLength="45.8" lengthAdjust="spacingAndGlyphs">0.00</text>
<text x="27.2" y="1758.0" font-size="18" fill="#131722" textLength="165.0" lengthAdjust="spacingAndGlyphs">MACD (12, 26, close)</text>
<text x="205.3" y="1758.0" font-size="18" fill="#f23645" textLength="41.4" lengthAdjust="spacingAndGlyphs">−28.1</text>
<text x="260.2" y="1758.0" font-size="18" fill="#2962ff" textLength="52.0" lengthAdjust="spacingAndGlyphs">−100.5</text>
<text x="325.2" y="1758.0" font-size="18" fill="#ff6d00" textLength="42.7" lengthAdjust="spacingAndGlyphs">−72.5</text>
<text x="27.2" y="1808.0" font-size="18" fill="#131722" textLength="111.8" lengthAdjust="spacingAndGlyphs">ATR (14, RMA)</text>
<text x="151.7" y="1808.0" font-size="18" fill="#f23645" textLength="43.0" lengthAdjust="spacingAndGlyphs">108.4</text>
<text x="151.0" y="1862.0" font-size="24" fill="#131722" text-anchor="middle">15</text>
<text x="302.0" y="1862.0" font-size="24" fill="#131722" text-anchor="middle">16</text>
<text x="453.4" y="1862.0" font-size="24" fill="#131722" text-anchor="middle">19</text>
<text x="604.6" y="1862.0" font-size="24" fill="#131722" text-anchor="middle">20</text>
<text x="755.0" y="1862.0" font-size="24" fill="#131722" text-anchor="middle">21</text>
<text x="906.0" y="1862.0" font-size="24" fill="#131722" text-anchor="middle">22</text>
<text x="1057.0" y="1862.0" font-size="24" fill="#131722" text-anchor="middle">23</text>
<text x="1208.0" y="1862.0" font-size="24" fill="#131722" text-anchor="middle">26</text>
<text x="1359.6" y="1862.0" font-size="24" fill="#131722" text-anchor="middle">27</text>
<text x="1510.8" y="1862.0" font-size="24" fill="#131722" text-anchor="middle">28</text>
<text x="1662.0" y="1862.0" font-size="24" fill="#131722" text-anchor="middle">29</text>
<text x="2115.8" y="1862.0" font-size="24" fill="#131722" text-anchor="middle">3</text>
<text x="2267.0" y="1862.0" font-size="24" fill="#131722" text-anchor="middle">4</text>
<text x="2417.0" y="1862.0" font-size="24" fill="#131722" text-anchor="middle">5</text>
<text x="2568.0" y="1862.0" font-size="24" fill="#131722" text-anchor="middle">6</text>
<text x="2719.6" y="1862.0" font-size="24" fill="#131722" text-anchor="middle">9</text>
<text x="2872.0" y="1862.0" font-size="24" fill="#131722" text-anchor="middle">10</text>
<text x="3022.0" y="1862.0" font-size="24" fill="#131722" text-anchor="middle">11</text>
<text x="3173.6" y="1862.0" font-size="24" fill="#131722" text-anchor="middle">12</text>
<text x="1939.0" y="1862.0" font-size="24" fill="#131722" font-weight="bold" text-anchor="middle">Sep</text>
<path d="M15.1,1900.2 L26.5,1900.2 L26.5,1914.8 L21,1914.8 L21,1905.7 L15.1,1905.7 Z" fill="#131722"/>
<circle cx="31.5" cy="1903.4" r="3.3" fill="#131722"/>
<path d="M38.1,1900.2 L44.4,1900.2 L38.5,1914.8 L32,1914.8 Z" fill="#131722"/>
<text x="50.0" y="1915.6" font-size="19" fill="#131722" textLength="104.9" lengthAdjust="spacingAndGlyphs">TradingView</text></svg>
</body></html>
